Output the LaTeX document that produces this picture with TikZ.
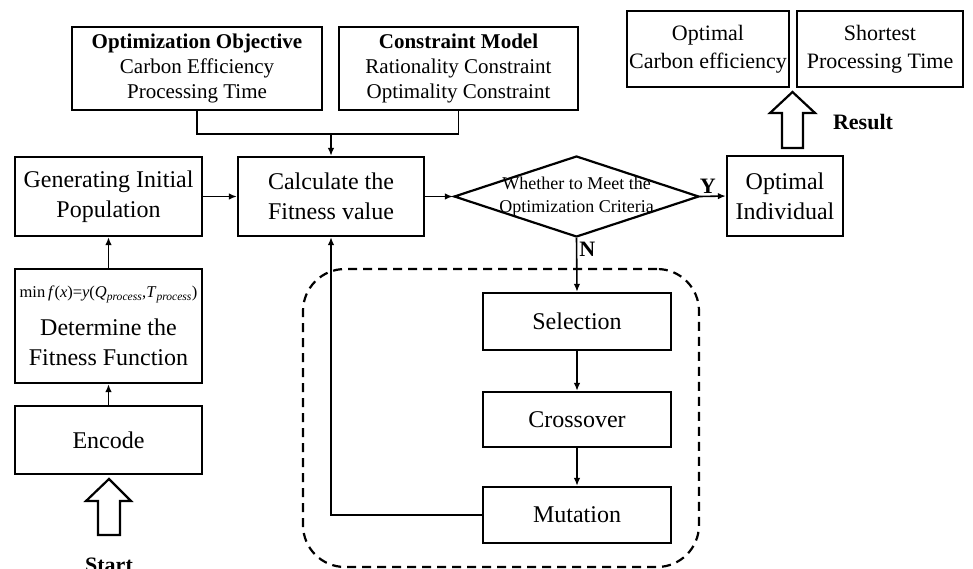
\documentclass[tikz,border=0pt]{standalone}
\usepackage{fontspec}
\setmainfont{Liberation Serif}
\usetikzlibrary{arrows.meta,positioning,shapes.geometric,calc}

\begin{document}
\begin{tikzpicture}[
  x=1pt, y=-1pt,
  >={Latex[length=8pt,width=6.5pt]},
  stepbox/.style={
    draw,
    line width=2.2pt,
    align=center,
    inner sep=2pt,
    font=\fontsize{24}{30}\selectfont
  },
  infobox/.style={
    stepbox,
    font=\fontsize{21}{25}\selectfont
  },
  resultbox/.style={
    stepbox,
    font=\fontsize{22}{28}\selectfont
  },
  decision/.style={
    draw,
    diamond,
    line width=2.2pt,
    inner sep=0pt
  },
  link/.style={line width=1.6pt},
  flag/.style={font=\bfseries\fontsize{22}{26}\selectfont, inner sep=2pt},
  hollow/.style={draw, line width=2.2pt, line join=miter, fill=white}
]
  \useasboundingbox (0,0) rectangle (973,569);

  % Objective and constraints feeding the fitness evaluation
  \node[infobox, minimum width=250, minimum height=83] (obj) at (197,68.5) {
    {\bfseries Optimization Objective}\\
    Carbon Efficiency\\
    Processing Time
  };
  \node[infobox, minimum width=239, minimum height=83] (cons) at (458.5,68.5) {
    {\bfseries Constraint Model}\\
    Rationality Constraint\\
    Optimality Constraint
  };

  % Left column: encode -> fitness function -> initial population
  \node[stepbox, minimum width=187, minimum height=79] (gen) at (108.5,196.5) {Generating Initial\\Population};
  \node[stepbox, minimum width=187, minimum height=114, inner sep=0pt] (fit) at (108.5,326) {
    {\fontsize{16.5}{22}\selectfont min\,\textit{f}(\textit{x})=\textit{y}(\textit{Q}\textsubscript{\textit{process}},\textit{T}\textsubscript{\textit{process}})}\\[8pt]
    Determine the\\Fitness Function
  };
  \node[stepbox, minimum width=187, minimum height=68] (enc) at (108.5,440) {Encode};

  % Main row
  \node[stepbox, minimum width=186, minimum height=79] (calc) at (331,196.5) {Calculate the\\Fitness value};
  \node[decision, minimum width=245, minimum height=81] (dec) at (576.5,196.5) {};
  \node[font=\fontsize{18}{23}\selectfont, align=center] (dectext) at (dec.center) {Whether to Meet the\\Optimization Criteria};
  \node[stepbox, minimum width=116, minimum height=80] (opt) at (785,196) {Optimal\\Individual};

  % Results
  \node[resultbox, minimum width=156, minimum height=76] (carb) at (708,49) {Optimal\\Carbon efficiency};
  \node[resultbox, minimum width=166, minimum height=76] (short) at (880,49) {Shortest\\Processing Time};

  % Genetic operators inside the dashed loop
  \node[draw, dashed, dash pattern=on 9pt off 6pt, line width=2.2pt, rounded corners=42pt,
        minimum width=396, minimum height=298] (loop) at (501,418) {};
  \node[stepbox, minimum width=188, minimum height=57] (sel) at (577,321.5) {Selection};
  \node[stepbox, minimum width=188, minimum height=55] (cro) at (577,419.5) {Crossover};
  \node[stepbox, minimum width=188, minimum height=56] (mut) at (577,515) {Mutation};

  % Connectors
  \coordinate (merge) at (331,134);
  \draw[link] (obj.south) |- (merge) -| (cons.south);
  \draw[link,->] (merge) -- (calc.north);
  \draw[link,->] (enc.north) -- (fit.south);
  \draw[link,->] (fit.north) -- (gen.south);
  \draw[link,->] (gen.east) -- (calc.west);
  \draw[link,->] (calc.east) -- (dec.west);
  \draw[link,->] (dec.east) -- node[flag, pos=0.3, above] {Y} (opt.west);
  \draw[link,->] (dec.south) -- node[flag, pos=0.2, right] {N} (sel.north);
  \draw[link,->] (sel.south) -- (cro.north);
  \draw[link,->] (cro.south) -- (mut.north);
  \draw[link,->] (mut.west) -| (calc.south);

  % Start and result block arrows
  \coordinate (startbase) at (109,535);
  \draw[hollow] (startbase) -- ++(-11,0) -- ++(0,-34) -- ++(-12,0) -- ++(23,-22)
    -- ++(22,22) -- ++(-11,0) -- ++(0,34) -- cycle;
  \node[flag] (startlbl) at (109,565) {Start};

  \coordinate (resbase) at (792.5,148);
  \draw[hollow] (resbase) -- ++(-10.5,0) -- ++(0,-35) -- ++(-12,0) -- ++(22.5,-21)
    -- ++(22.5,21) -- ++(-12,0) -- ++(0,35) -- cycle;
  \node[flag] (reslbl) at (863,122) {Result};

\end{tikzpicture}
\end{document}
